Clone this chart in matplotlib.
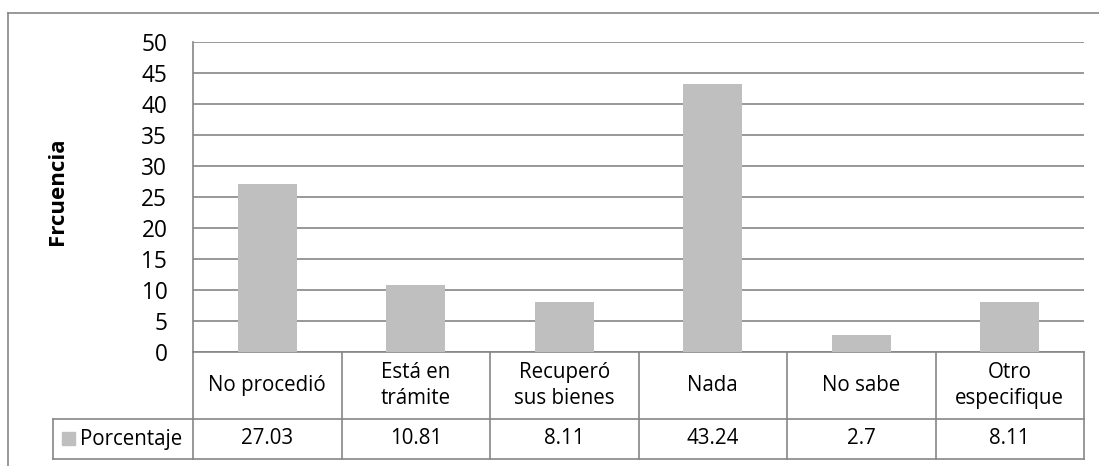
import matplotlib
matplotlib.use("Agg")
import matplotlib.pyplot as plt
import matplotlib.transforms as mtransforms
from matplotlib.lines import Line2D
from matplotlib.patches import Rectangle

# datos
categorias = ["No procedió", "Está en\ntrámite", "Recuperó\nsus bienes", "Nada", "No sabe", "Otro\nespecifique"]
porcentaje = [27.03, 10.81, 8.11, 43.24, 2.7, 8.11]
etiquetas_tabla = ["27.03", "10.81", "8.11", "43.24", "2.7", "8.11"]
serie = "Porcentaje"
yticks = [0, 5, 10, 15, 20, 25, 30, 35, 40, 45, 50]

W, H = 1099, 466
plt.rcParams['font.family'] = ['Open Sans', 'DejaVu Sans']

gris_barra = "#BFBFBF"
gris_linea = "#868686"
fs = 14.8


def fx(px):
    return px / W


def fy(py):
    return (H - py) / H


fig = plt.figure(figsize=(W / 100, H / 100), dpi=100)

# borde exterior del grafico
fig.add_artist(Line2D([fx(8), fx(8)], [fy(13), 0], color=gris_linea, lw=1.2))
fig.add_artist(Line2D([fx(8), 1], [fy(13), fy(13)], color=gris_linea, lw=1.2))

ax = fig.add_axes([fx(193), fy(352), fx(1084) - fx(193), fy(42) - fy(352)])
x = list(range(len(categorias)))
ax.bar(x, porcentaje, width=0.4, color=gris_barra, zorder=3)
ax.set_xlim(-0.5, len(categorias) - 0.5)
ax.set_ylim(0, 50)
ax.set_yticks(yticks)
ax.set_yticklabels([str(v) for v in yticks], fontsize=16.3)
ax.tick_params(axis="y", length=0, pad=18.5)
ax.set_xticks([])
ax.grid(axis="y", color=gris_linea, lw=1.2, zorder=0)
for s in ["top", "right", "bottom"]:
    ax.spines[s].set_visible(False)
ax.spines["left"].set_color(gris_linea)
ax.spines["left"].set_linewidth(1.2)
ax.set_ylabel("Frcuencia", fontsize=16, fontweight="bold")
ax.yaxis.set_label_coords((68 - 193) / 891, 0.52)

# tabla de datos
tr = mtransforms.blended_transform_factory(ax.transData, fig.transFigure)
y_top, y_mid, y_bot = fy(352), fy(419), fy(459)
x0, x1 = -0.5, len(categorias) - 0.5
kw = dict(color=gris_linea, lw=1.2, transform=tr, clip_on=False)
ax.add_line(Line2D([x0, x1], [y_top, y_top], **kw))
ax.add_line(Line2D([x0, x1], [y_mid, y_mid], **kw))
ax.add_line(Line2D([x0, x1], [y_bot, y_bot], **kw))
for i in range(len(categorias) + 1):
    ax.add_line(Line2D([i - 0.5, i - 0.5], [y_top, y_bot], **kw))
for i, (c, v) in enumerate(zip(categorias, etiquetas_tabla)):
    ax.text(i, (y_top + y_mid) / 2, c, transform=tr, ha="center", va="center",
            fontsize=fs, linespacing=1.3)
    ax.text(i, (y_mid + y_bot) / 2, v, transform=tr, ha="center", va="center", fontsize=fs)

# celda de la leyenda
fig.add_artist(Line2D([fx(53), fx(193)], [y_mid, y_mid], color=gris_linea, lw=1.2))
fig.add_artist(Line2D([fx(53), fx(193)], [y_bot, y_bot], color=gris_linea, lw=1.2))
fig.add_artist(Line2D([fx(53), fx(53)], [y_mid, y_bot], color=gris_linea, lw=1.2))
fig.add_artist(Rectangle((fx(62), fy(445)), fx(75) - fx(62), fy(432) - fy(445),
                         transform=fig.transFigure, color=gris_barra))
fig.text(fx(80), (y_mid + y_bot) / 2, serie, ha="left", va="center", fontsize=fs)

fig.savefig("out.png", dpi=100)
